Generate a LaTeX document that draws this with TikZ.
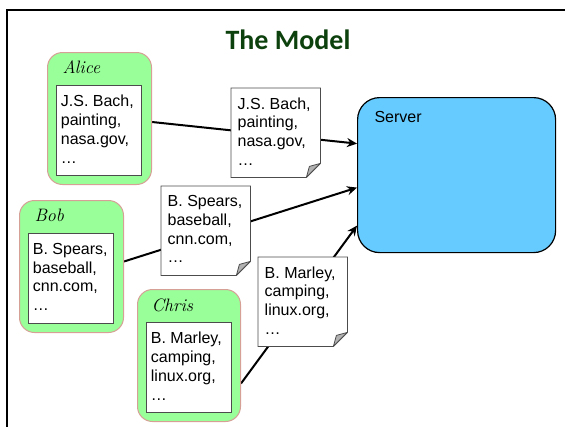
\documentclass[tikz,border=0pt]{standalone}
\usepackage{fontspec}
\setsansfont{Liberation Sans}
\newfontfamily\headfont{Carlito}
\usepackage{tikz}
\usetikzlibrary{arrows.meta,backgrounds}

\definecolor{titlegreen}{RGB}{12,64,12}
\definecolor{usergreen}{RGB}{153,255,153}
\definecolor{userrim}{RGB}{214,160,150}
\definecolor{serverblue}{RGB}{102,204,255}

\newcommand{\msgsize}{\fontsize{16pt}{18.7pt}\selectfont}
% a fixed-size, top-aligned block of interests
\newcommand{\entries}[1]{\parbox[t][70pt][t]{76pt}{\msgsize\raggedright #1}}

\begin{document}
\begin{tikzpicture}[x=1pt,y=-1pt,
  user/.style={draw=userrim,fill=usergreen,rounded corners=15pt,line width=1pt,
               minimum width=104pt,minimum height=132pt,inner sep=0pt,anchor=north west},
  card/.style={draw=black!70,fill=white,line width=0.8pt,minimum width=85pt,
               minimum height=90pt,inner xsep=4pt,inner ysep=10pt,anchor=north west,
               font=\sffamily},
  note/.style={minimum width=89pt,minimum height=89pt,inner sep=4pt,
               anchor=north west,font=\sffamily},
  who/.style={anchor=base west,font=\fontsize{18pt}{18pt}\selectfont\itshape},
  link/.style={line width=2pt,-{Stealth[length=10pt,width=9pt]}}]
  \useasboundingbox (0,0) rectangle (565,426);
  % slide frame, running off the page on the right and at the bottom
  \draw[line width=2.8pt] (7,450) -- (7,10) -- (590,10);
  \node[anchor=base,font=\headfont\bfseries\fontsize{28pt}{28pt}\selectfont,
        text=titlegreen] (title) at (288,49) {The Model};

  % the server
  \node[draw,fill=serverblue,rounded corners=22pt,line width=1.2pt,
        minimum width=198pt,minimum height=155pt,anchor=north west] (server) at (357,97) {};
  \node[anchor=base west,font=\sffamily\msgsize] (serverlabel) at (371,122.5) {Server};

  % the three users and what they care about
  \node[user] (alice) at (47,52) {};
  \node[who] (alicename) at ([xshift=12pt,yshift=-21pt]alice.north west) {Alice};
  \node[card] (aliceitems) at ([xshift=9pt,yshift=-33pt]alice.north west)
    {\entries{J.S. Bach,\\painting,\\nasa.gov,\\\ldots}};

  \node[user] (bob) at (19,200) {};
  \node[who] (bobname) at ([xshift=12pt,yshift=-21pt]bob.north west) {Bob};
  \node[card] (bobitems) at ([xshift=9pt,yshift=-33pt]bob.north west)
    {\entries{B. Spears,\\baseball,\\cnn.com,\\\ldots}};

  \node[user,minimum width=103pt] (chris) at (137,289) {};
  \node[who] (chrisname) at ([xshift=11pt,yshift=-22pt]chris.north west) {Chris};
  \node[card] (chrisitems) at ([xshift=9pt,yshift=-33pt]chris.north west)
    {\entries{B. Marley,\\camping,\\linux.org,\\\ldots}};

  % profiles on their way to the server
  \node[note] (msgA) at (231,88) {\entries{J.S. Bach,\\painting,\\nasa.gov,\\\ldots}};
  \node[note] (msgB) at (161,186) {\entries{B. Spears,\\baseball,\\cnn.com,\\\ldots}};
  \node[note] (msgC) at (258,257) {\entries{B. Marley,\\camping,\\linux.org,\\\ldots}};

  \begin{scope}[on background layer]
    \draw[link] ([yshift=-3.5pt]alice.east) -- ([yshift=31.5pt]server.west);
    \draw[link] ([yshift=5pt]bob.east) -- ([yshift=-12.5pt]server.west);
    \draw[link] ([yshift=-28pt]chris.east) -- ([yshift=-50.5pt]server.west);
    % sheets with a folded corner, drawn over the links
    \foreach \m in {msgA,msgB,msgC} {
      \filldraw[fill=white,draw=black!70,line width=0.8pt]
        (\m.north west) -- (\m.north east) -- ([yshift=14pt]\m.south east)
        -- ([xshift=-14pt]\m.south east) -- (\m.south west) -- cycle;
      \filldraw[fill=black!30,draw=black!70,line width=0.8pt,line join=round]
        ([yshift=14pt]\m.south east) -- ([xshift=-11pt,yshift=11pt]\m.south east)
        -- ([xshift=-14pt]\m.south east) -- cycle;
    }
  \end{scope}
\end{tikzpicture}
\end{document}
